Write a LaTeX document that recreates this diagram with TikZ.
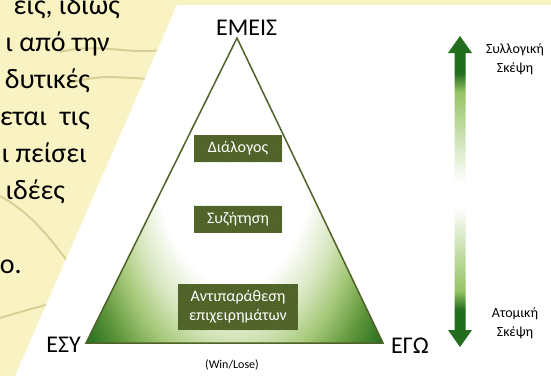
\documentclass[tikz,border=0pt]{standalone}
\usepackage{fontspec}
\setmainfont{Carlito}
\usetikzlibrary{patterns}
\definecolor{parchment}{RGB}{249,243,196}
\definecolor{streak}{RGB}{196,186,118}
\definecolor{olive}{RGB}{79,98,40}
\definecolor{olivedot}{RGB}{108,126,70}
\definecolor{tpale}{RGB}{215,230,190}
\definecolor{tlight}{RGB}{165,200,120}
\definecolor{tmid}{RGB}{95,150,60}
\definecolor{tdark}{RGB}{30,105,25}
\definecolor{adark}{RGB}{35,110,30}
\definecolor{alight}{RGB}{150,195,100}
\pgfdeclareradialshading{pyramidshade}{\pgfpointorigin}{color(0bp)=(white); color(13.5bp)=(white); color(18.5bp)=(tpale); color(22.5bp)=(tlight); color(27bp)=(tmid); color(32bp)=(tdark); color(50bp)=(tdark)}
\pgfdeclareverticalshading{arrowshade}{100bp}{color(0bp)=(adark); color(31bp)=(adark); color(34bp)=(alight); color(41bp)=(alight!50!white); color(47.5bp)=(white); color(51.5bp)=(white); color(59bp)=(alight!50!white); color(66bp)=(alight); color(69bp)=(adark); color(100bp)=(adark)}
\tikzset{
  pagetext/.style={font=\fontsize{28}{30}\selectfont, inner sep=0pt, anchor=base east},
  corner/.style={font=\fontsize{24}{26}\selectfont, inner sep=0pt},
  stage/.style={fill=olive, text=white, font=\fontsize{16}{19}\selectfont, align=center, inner sep=0pt,
    postaction={pattern=dots, pattern color=olivedot}},
  scalelabel/.style={font=\fontsize{14}{18.5}\selectfont, align=center, inner sep=0pt}
}

\begin{document}
\begin{tikzpicture}[x=1pt,y=-1pt]
    \useasboundingbox (0,0) rectangle (551,376);
    \clip (0,0) rectangle (551,376);
    % page behind
    \fill [parchment] (0,0) rectangle (551,376);
    \draw [streak, line width=2pt, opacity=.6] (60,52) .. controls (100,42) and (130,56) .. (168,49);
    \draw [streak, line width=2pt, opacity=.6] (68,83) .. controls (100,76) .. (150,79);
    \draw [streak, line width=2pt, opacity=.6] (0,196) .. controls (30,212) and (50,238) .. (68,262);
    \draw [streak, line width=2pt, opacity=.6] (0,318) .. controls (20,312) .. (56,302);
    \node [pagetext] (line1) at (120,14) {εις, ιδίως};
    \node [pagetext] (line2) at (110,51) {ι από την};
    \node [pagetext] (line3) at (90,88) {δυτικές};
    \node [pagetext] (line4) at (90,125) {εται\ \ τις};
    \node [pagetext] (line5) at (87,162) {ι πείσει};
    \node [pagetext] (line6) at (65,199) {ιδέες};
    \node [pagetext] (line7) at (22,273) {ιο.};
    \fill [white] (177,5) -- (551,5) -- (551,376) -- (15,376) -- cycle;
    % pyramid
    \coordinate (top) at (237,38);
    \coordinate (left) at (86,343);
    \coordinate (right) at (383,343);
    \begin{scope}
        \clip (top) -- (right) -- (left) -- cycle;
        \shade [shading=pyramidshade] (86,-100) rectangle (383,400);
    \end{scope}
    \draw [olive, line width=1.5pt] (top) -- (right) -- (left) -- cycle;
    \node [corner, anchor=base west] (us) at (216,35) {ΕΜΕΙΣ};
    \node [corner, anchor=base east] (you) at (81,352) {ΕΣΥ};
    \node [corner, anchor=base west] (me) at (391,353) {ΕΓΩ};
    \node [font=\fontsize{12}{14}\selectfont, inner sep=0pt, anchor=base] (winlose) at (232,368) {(Win/Lose)};
    \node [stage, minimum width=88pt, minimum height=27pt] (dialogue) at (238,148.5) {Διάλογος};
    \node [stage, minimum width=88pt, minimum height=27pt] (discussion) at (238,219) {Συζήτηση};
    \node [stage, minimum width=120pt, minimum height=46pt] (debate) at (238,307) {Αντιπαράθεση\\επιχειρημάτων};
    % scale arrow
    \shade [shading=arrowshade] (460,36) -- (472,53) -- (465.5,53) -- (465.5,330) -- (472,330) -- (460,347)
        -- (448,330) -- (454.5,330) -- (454.5,53) -- (448,53) -- cycle;
    \node [scalelabel] (collective) at (515,59) {Συλλογική\\Σκέψη};
    \node [scalelabel] (individual) at (515,323) {Ατομική\\Σκέψη};
\end{tikzpicture}
\end{document}
